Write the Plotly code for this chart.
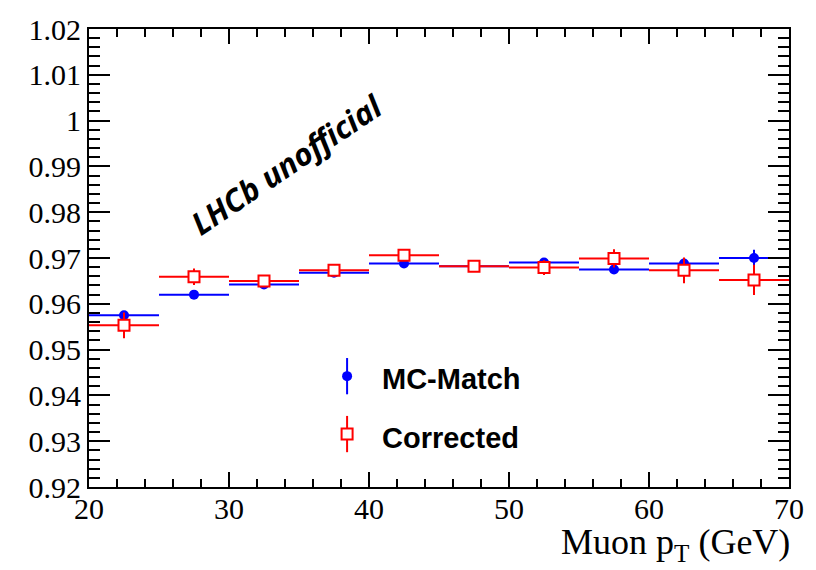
import plotly.graph_objects as go

# ---- data ----
bin_centers = [22.5, 27.5, 32.5, 37.5, 42.5, 47.5, 52.5, 57.5, 62.5, 67.5]
bin_halfwidth = [2.5] * 10
mc_match = [0.9575, 0.9620, 0.9642, 0.9668, 0.9688, 0.9682, 0.9690, 0.9675, 0.9688, 0.9700]
mc_match_err = [0.0008, 0.0005, 0.0005, 0.0005, 0.0005, 0.0005, 0.0006, 0.0008, 0.0010, 0.0018]
corrected = [0.9553, 0.9659, 0.9650, 0.9673, 0.9706, 0.9682, 0.9679, 0.9699, 0.9673, 0.9652]
corrected_err = [0.0028, 0.0018, 0.0010, 0.0008, 0.0008, 0.0010, 0.0016, 0.0020, 0.0028, 0.0033]

y_tickvals = [0.92, 0.93, 0.94, 0.95, 0.96, 0.97, 0.98, 0.99, 1.00, 1.01, 1.02]
y_ticktext = ["0.92", "0.93", "0.94", "0.95", "0.96", "0.97", "0.98", "0.99", "1", "1.01", "1.02"]
x_tickvals = [20, 30, 40, 50, 60, 70]
x_ticktext = ["20", "30", "40", "50", "60", "70"]

series_names = ["MC-Match", "Corrected"]

BLUE = "rgb(0,0,255)"
RED = "rgb(255,0,0)"
SERIF = "Liberation Serif, Times New Roman, serif"
SANS = "Liberation Sans, Arial, sans-serif"

fig = go.Figure()

fig.add_trace(go.Scatter(
    x=bin_centers, y=mc_match, mode="markers", name=series_names[0],
    marker=dict(symbol="circle", size=10, color=BLUE),
    error_x=dict(type="data", array=bin_halfwidth, width=0, thickness=2, color=BLUE),
    error_y=dict(type="data", array=mc_match_err, width=0, thickness=2, color=BLUE),
    showlegend=False,
))
fig.add_trace(go.Scatter(
    x=bin_centers, y=corrected, mode="markers", name=series_names[1],
    marker=dict(symbol="square", size=11, color="white", line=dict(color=RED, width=2)),
    error_x=dict(type="data", array=bin_halfwidth, width=0, thickness=2, color=RED),
    error_y=dict(type="data", array=corrected_err, width=0, thickness=2, color=RED),
    showlegend=False,
))

# ---- hand-made legend on an overlay axis (0..1 paper-like) ----
leg_x = [0.3687]
leg_y_blue = [0.242]
leg_y_red = [0.1156]
fig.add_trace(go.Scatter(
    x=leg_x, y=leg_y_blue, xaxis="x2", yaxis="y2", mode="markers",
    marker=dict(symbol="circle", size=10, color=BLUE),
    error_y=dict(type="constant", value=0.0396, width=0, thickness=2, color=BLUE),
    showlegend=False, hoverinfo="skip",
))
fig.add_trace(go.Scatter(
    x=leg_x, y=leg_y_red, xaxis="x2", yaxis="y2", mode="markers",
    marker=dict(symbol="square", size=11, color="white", line=dict(color=RED, width=2)),
    error_y=dict(type="constant", value=0.0396, width=0, thickness=2, color=RED),
    showlegend=False, hoverinfo="skip",
))

annotations = [
    dict(x=0.4164, y=0.2355, xref="paper", yref="paper", text="<b>" + series_names[0] + "</b>",
         showarrow=False, xanchor="left", yanchor="middle",
         font=dict(family=SANS, size=29, color="black")),
    dict(x=0.4164, y=0.1071, xref="paper", yref="paper", text="<b>" + series_names[1] + "</b>",
         showarrow=False, xanchor="left", yanchor="middle",
         font=dict(family=SANS, size=29, color="black")),
    dict(x=0.2825, y=0.7045, xref="paper", yref="paper", text="<b><i>LHCb unofficial</i></b>",
         showarrow=False, xanchor="center", yanchor="middle", textangle=-34,
         font=dict(family="Open Sans, sans-serif", size=31, color="black")),
    dict(x=1.004, y=-0.072, xref="paper", yref="paper", text="Muon p<sub>T</sub> (GeV)",
         showarrow=False, xanchor="right", yanchor="top",
         font=dict(family=SERIF, size=36, color="black")),
]

fig.update_layout(
    width=816, height=570,
    margin=dict(l=89, r=21, t=20, b=83),
    paper_bgcolor="white", plot_bgcolor="white",
    showlegend=False,
    annotations=annotations,
    xaxis=dict(
        range=[20, 70], tickvals=x_tickvals, ticktext=x_ticktext,
        ticks="inside", ticklen=15, tickwidth=1.5, tickcolor="black",
        minor=dict(dtick=2, ticks="inside", ticklen=8, tickwidth=1.5, tickcolor="black"),
        showline=True, linewidth=2, linecolor="black", mirror="ticks",
        showgrid=False, zeroline=False, ticklabelstandoff=-6,
        tickfont=dict(family=SERIF, size=30, color="black"),
    ),
    yaxis=dict(
        range=[0.92, 1.02], tickvals=y_tickvals, ticktext=y_ticktext,
        ticks="inside", ticklen=21, tickwidth=1.5, tickcolor="black",
        minor=dict(dtick=0.002, tick0=0.92, ticks="inside", ticklen=11, tickwidth=1.5, tickcolor="black"),
        showline=True, linewidth=2, linecolor="black", mirror="ticks",
        showgrid=False, zeroline=False,
        tickfont=dict(family=SERIF, size=30, color="black"),
    ),
    xaxis2=dict(overlaying="x", range=[0, 1], visible=False, fixedrange=True),
    yaxis2=dict(overlaying="y", range=[0, 1], visible=False, fixedrange=True),
)

fig.write_html("out.html")
